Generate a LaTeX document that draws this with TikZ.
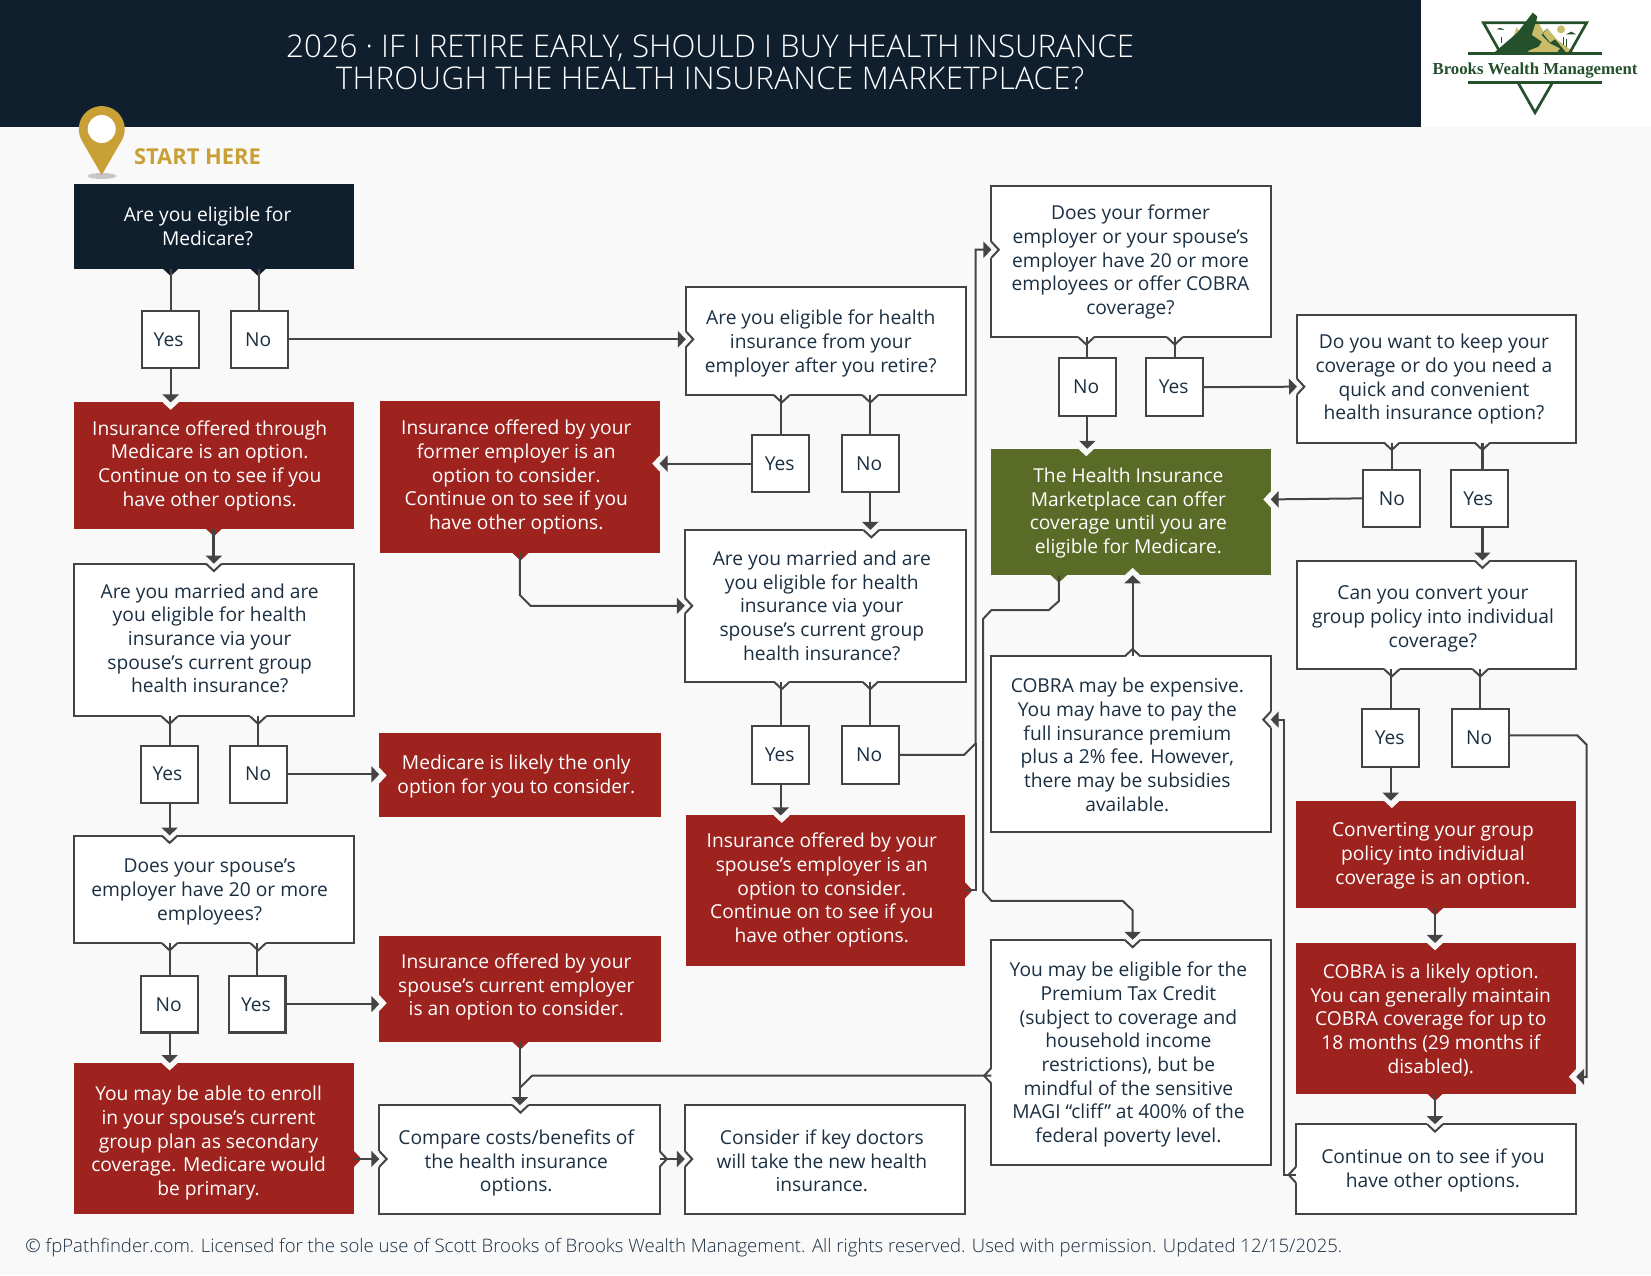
\documentclass[tikz,border=0pt]{standalone}
\usepackage{fontspec}
\usetikzlibrary{arrows.meta}
\setmainfont{Open Sans}
\newfontfamily\titlef{Open Sans Light}
\newfontfamily\logof{Liberation Serif}
\definecolor{navy}{HTML}{0F1F2E}
\definecolor{ink}{HTML}{1B2F42}
\definecolor{rust}{HTML}{9E231F}
\definecolor{olive}{HTML}{5A6A27}
\definecolor{bord}{HTML}{444444}
\definecolor{pagebg}{HTML}{F9F9F9}
\definecolor{gold}{HTML}{C9A035}
\definecolor{lgreen}{HTML}{24502B}
\definecolor{khaki}{HTML}{C8BC6A}
\newcommand\pxs{1.05356}
\newcommand\bx[9]{%
\pgfmathsetmacro\bW{(#5-#3)*\pxs}\pgfmathsetmacro\bH{(#6-#4)*\pxs}%
\pgfmathsetmacro\bdx{(#7-(#3+#5)/2)*\pxs*2}\pgfmathsetmacro\bdy{-(#8-(#4+#6)/2)*\pxs-7.5}%
\node[#2,minimum width=\bW pt,minimum height=\bH pt] (#1) at ({(#3+#5)/2},{(#4+#6)/2}) {\raisebox{\bdy pt}[0pt][0pt]{\makebox[0pt][c]{\hspace*{\bdx pt}\begin{tabular}{@{}c@{}}#9\end{tabular}}}};}
\newcommand\wdg[6]{%
\fill[#5] ({#1-1.3*#3+7.5*#4},{#2-1.3*#4+7.5*#3}) -- ({#1+7.5*#4},{#2+7.5*#3}) -- ({#1+7*#3},{#2+7*#4}) -- ({#1-7.5*#4},{#2-7.5*#3}) -- ({#1-1.3*#3-7.5*#4},{#2-1.3*#4-7.5*#3}) -- cycle;
\draw[#6] ({#1+7.5*#4},{#2+7.5*#3}) -- ({#1+7*#3},{#2+7*#4}) -- ({#1-7.5*#4},{#2-7.5*#3});}
\newcommand\nr[4]{\wdg{#1}{#2}{#3}{#4}{pagebg}{draw=none}}
\newcommand\nw[4]{\wdg{#1}{#2}{#3}{#4}{pagebg}{bord,line width=2pt}}
\newcommand\tw[4]{\wdg{#1}{#2}{#3}{#4}{white}{bord,line width=2pt}}
\newcommand\ts[5]{\wdg{#1}{#2}{#3}{#4}{#5}{draw=none}}
\tikzset{
 boxbase/.style={inner sep=0pt,outer sep=0pt,font=\fontsize{19.2}{23.7}\selectfont},
 wbox/.style={boxbase,draw=bord,line width=2pt,fill=white,text=ink},
 rbox/.style={boxbase,fill=rust,text=white},
 nbox/.style={boxbase,fill=navy,text=white},
 gbox/.style={boxbase,fill=olive,text=white},
 ans/.style={boxbase,draw=bord,line width=2.1pt,fill=white,text=ink},
 conn/.style={draw=bord,line width=2pt},
 arr/.style={conn,-{Triangle[width=16pt,length=8pt]}},
 heavy/.style={line width=2.8pt},
}
\begin{document}
\begin{tikzpicture}[x=1.05356pt,y=-1.05356pt]
\useasboundingbox (0,0) rectangle (1567,1210.17);
\fill[pagebg] (0,0) rectangle (1567,1210.17);
\fill[navy] (0,0) rectangle (1349,121);
\fill[white] (1349,0) rectangle (1567,121);
\node[text=white,align=center,font=\titlef\fontsize{31.25}{31.6}\selectfont,inner sep=0pt] (title) at (674,59) {2026 · IF I RETIRE EARLY, SHOULD I BUY HEALTH INSURANCE\\{\addfontfeatures{LetterSpace=1.2}THROUGH THE HEALTH INSURANCE MARKETPLACE?}};
% logo
\begin{scope}[x=0.3333pt,y=-0.3333pt,shift={(1400pt,0pt)}]
\fill[khaki] (330,135)--(350,82)--(362,100)--cycle;
\fill[khaki] (398,38)--(430,95)--(442,85)--(470,118)--(525,160)--(380,160)--cycle;
\fill[lgreen] (280,160)--(352,98)--(398,38)--(412,50)--(395,105)--(425,125)--(415,140)--(385,152)--(385,160)--cycle;
\fill[lgreen] (442,85)--(428,100)--(450,128)--(465,118)--(500,160)--(470,160)--(480,145)--(450,130)--(425,105)--cycle;
\fill[khaki] (483,88) circle (12);
\fill[lgreen] (290,88) -- (300,83) -- (314,90) -- cycle (498,103) -- (514,95) -- (528,103) -- cycle;
\draw[lgreen,line width=1.5pt] (305,110)--(305,130) (490,110)--(490,135) (500,118)--(500,140);
\draw[lgreen,line width=2.7pt] (302,160)--(250,68)--(560,68)--(508,160);
\draw[lgreen,line width=2.7pt] (355,250)--(405,338)--(456,250);
\draw[lgreen,line width=2.7pt] (205,160)--(605,160) (205,247)--(605,247);
\node[text=lgreen,font=\logof\bfseries\fontsize{16.8}{18}\selectfont,inner sep=0pt] (logotext) at (405,212) {Brooks Wealth Management};
\end{scope}
% pin
\begin{scope}[x=1pt,y=-1pt]
\fill[black!22] (102,176) ellipse (14.5 and 3);
\fill[gold] (101.7,175) -- (81.6,140.2) arc (151:389:23) -- cycle;
\fill[white] (101.7,129) circle (14);
\end{scope}
\node[anchor=west,text=gold,font=\bfseries\fontsize{21.9}{24}\selectfont,inner sep=0pt] (start) at (127,148.5) {START HERE};
% boxes
\bx{q1}{nbox}{70}{175}{336}{255}{197}{215}{Are you eligible for\\Medicare?}
\bx{y1}{ans}{135}{295}{189}{349}{160}{322}{Yes}
\bx{n1}{ans}{219}{295}{273}{349}{245}{322}{No}
\bx{r1}{rbox}{70}{382}{336}{502}{199}{440}{Insurance offered through\\Medicare is an option.\\Continue on to see if you\\have other options.}
\bx{q2}{wbox}{70}{535}{336}{680}{199}{606}{Are you married and are\\you eligible for health\\insurance via your\\spouse’s current group\\health insurance?}
\bx{y2}{ans}{134}{708}{188}{762}{159}{734}{Yes}
\bx{n2}{ans}{218}{708}{272}{762}{245}{734}{No}
\bx{med}{rbox}{360}{696}{627}{775}{490}{735}{Medicare is likely the only\\option for you to consider.}
\bx{q3}{wbox}{70}{793}{336}{895}{199}{844}{Does your spouse’s\\employer have 20 or more\\employees?}
\bx{n3}{ans}{134}{926}{188}{980}{160}{953}{No}
\bx{y3}{ans}{217}{926}{271}{980}{243}{953}{Yes}
\bx{emp}{rbox}{360}{888}{627}{989}{490}{935}{Insurance offered by your\\spouse’s current employer\\is an option to consider.}
\bx{sec}{rbox}{70}{1009}{336}{1152}{198}{1083}{You may be able to enroll\\in your spouse's current\\group plan as secondary\\coverage. Medicare would\\be primary.}
\bx{cmp}{wbox}{360}{1049}{626}{1152}{490}{1102}{Compare costs/benefits of\\the health insurance\\options.}
\bx{doc}{wbox}{650}{1049}{916}{1152}{780}{1102}{Consider if key doctors\\will take the new health\\insurance.}
\bx{q4}{wbox}{651}{272}{917}{375}{779}{324}{Are you eligible for health\\insurance from your\\employer after you retire?}
\bx{y4}{ans}{714}{413}{768}{467}{740}{440}{Yes}
\bx{n4}{ans}{799}{413}{853}{467}{825}{440}{No}
\bx{fmr}{rbox}{361}{381}{626}{525}{490}{451}{Insurance offered by your\\former employer is an\\option to consider.\\Continue on to see if you\\have other options.}
\bx{q5}{wbox}{650}{503}{917}{647}{780}{575}{Are you married and are\\you eligible for health\\insurance via your\\spouse’s current group\\health insurance?}
\bx{y5}{ans}{714}{689}{768}{744}{740}{716}{Yes}
\bx{n5}{ans}{799}{689}{853}{744}{825}{716}{No}
\bx{sp}{rbox}{651}{774}{916}{917}{780}{843}{Insurance offered by your\\spouse’s employer is an\\option to consider.\\Continue on to see if you\\have other options.}
\bx{q6}{wbox}{941}{177}{1206}{320}{1073}{247}{Does your former\\employer or your spouse's\\employer have 20 or more\\employees or offer COBRA\\coverage?}
\bx{n6}{ans}{1005}{340}{1059}{395}{1031}{367}{No}
\bx{y6}{ans}{1088}{340}{1142}{395}{1114}{367}{Yes}
\bx{q7}{wbox}{1231}{299}{1496}{420}{1361}{358}{Do you want to keep your\\coverage or do you need a\\quick and convenient\\health insurance option?}
\bx{n7}{ans}{1294}{446}{1348}{500}{1321}{473}{No}
\bx{y7}{ans}{1377}{446}{1431}{500}{1403}{473}{Yes}
\bx{grn}{gbox}{941}{426}{1206}{546}{1071}{485}{The Health Insurance\\Marketplace can offer\\coverage until you are\\eligible for Medicare.}
\bx{q8}{wbox}{941}{623}{1206}{790}{1070}{707}{COBRA may be expensive.\\You may have to pay the\\full insurance premium\\plus a 2\% fee. However,\\there may be subsidies\\available.}
\bx{ptc}{wbox}{941}{892}{1206}{1106}{1071}{999}{You may be eligible for the\\Premium Tax Credit\\(subject to coverage and\\household income\\restrictions), but be\\mindful of the sensitive\\MAGI “cliff” at 400\% of the\\federal poverty level.}
\bx{q9}{wbox}{1231}{532}{1496}{635}{1360}{585}{Can you convert your\\group policy into individual\\coverage?}
\bx{y8}{ans}{1293}{673}{1347}{728}{1319}{700}{Yes}
\bx{n8}{ans}{1378}{673}{1432}{728}{1404}{700}{No}
\bx{cvt}{rbox}{1230}{760}{1496}{862}{1360}{810}{Converting your group\\policy into individual\\coverage is an option.}
\bx{cob}{rbox}{1230}{895}{1496}{1038}{1358}{967}{COBRA is a likely option.\\You can generally maintain\\COBRA coverage for up to\\18 months (29 months if\\disabled).}
\bx{cnt}{wbox}{1230}{1067}{1496}{1152}{1360}{1109}{Continue on to see if you\\have other options.}
% tabs and notches
\ts{162}{255}{0}{1}{navy}\ts{245}{255}{0}{1}{navy}
\nr{162}{382}{0}{1}\ts{203}{502}{0}{1}{rust}
\nw{203}{535}{0}{1}\tw{161}{680}{0}{1}\tw{245}{680}{0}{1}
\nr{360}{736}{1}{0}
\nw{161}{793}{0}{1}\tw{161}{895}{0}{1}\tw{245}{895}{0}{1}
\nr{360}{952}{1}{0}\ts{494}{989}{0}{1}{rust}
\nr{161}{1009}{0}{1}\ts{336}{1100}{1}{0}{rust}
\nw{360}{1100}{1}{0}\nw{494}{1049}{0}{1}\tw{626}{1100}{1}{0}
\nw{650}{1100}{1}{0}
\nw{651}{322}{1}{0}\tw{742}{375}{0}{1}\tw{826}{375}{0}{1}
\nr{626}{440}{-1}{0}\ts{494}{525}{0}{1}{rust}
\nw{827}{503}{0}{1}\nw{650}{575}{1}{0}\tw{742}{647}{0}{1}\tw{826}{647}{0}{1}
\nr{742}{774}{0}{1}\ts{916}{845}{1}{0}{rust}
\nw{941}{237}{1}{0}\tw{1031}{320}{0}{1}\tw{1115}{320}{0}{1}
\nr{1031}{426}{0}{1}\nr{1206}{474}{-1}{0}\ts{1005}{546}{0}{1}{olive}\nr{1075}{546}{0}{-1}
\nw{1231}{367}{1}{0}\tw{1321}{420}{0}{1}\tw{1407}{420}{0}{1}
\tw{1075}{623}{0}{-1}\nw{1206}{683}{-1}{0}
\nw{1075}{892}{0}{1}\tw{941}{1021}{-1}{0}
\nw{1407}{532}{0}{1}\tw{1321}{635}{0}{1}\tw{1405}{635}{0}{1}
\nr{1321}{760}{0}{1}\ts{1362}{862}{0}{1}{rust}
\nr{1362}{895}{0}{1}\nr{1496}{1022}{-1}{0}\ts{1362}{1038}{0}{1}{rust}
\nw{1362}{1067}{0}{1}\tw{1230}{1115}{-1}{0}
% connector ends away from box centres
\coordinate (r1o) at (203,502);
\coordinate (q7y) at (1407,420);
\coordinate (y7o) at (1407,500);
\coordinate (q8t) at (1075,623);
\coordinate (cvo) at (1362,862);
\coordinate (coo) at (1362,1038);
\coordinate (sec o) at (336,1100);
\coordinate (cmp i) at (360,1100);
\coordinate (cmp o) at (626,1100);
\coordinate (doc i) at (650,1100);
\coordinate (fmr i) at (626,440);
\coordinate (sp o) at (916,845);
\coordinate (q6 i) at (941,237);
\coordinate (q7 i) at (1231,367);
\coordinate (grn o) at (1005,546);
\coordinate (grn i) at (1206,474);
\coordinate (ptc o) at (941,1021);
\coordinate (q8 i) at (1206,683);
\coordinate (cnt o) at (1230,1115);
\coordinate (cob i) at (1496,1022);
\coordinate (n8 o) at (1432,698);
% connectors
\draw[conn] (q1.south -| y1.north) -- (y1.north);
\draw[conn] (q1.south -| n1.north) -- (n1.north);
\draw[arr] (y1.south) -- (y1.south |- r1.north);
\draw[arr] (n1.east) -- (n1.east -| q4.west);
\draw[arr,heavy] (r1o) -- (r1o |- q2.north);
\draw[conn] (q2.south -| y2.north) -- (y2.north);
\draw[conn] (q2.south -| n2.north) -- (n2.north);
\draw[arr] (y2.south) -- (y2.south |- q3.north);
\draw[arr] (n2.east) -- (n2.east -| med.west);
\draw[conn] (q3.south -| n3.north) -- (n3.north);
\draw[conn] (q3.south -| y3.north) -- (y3.north);
\draw[arr] (n3.south) -- (n3.south |- sec.north);
\draw[arr] (y3.east) -- (y3.east -| emp.west);
\draw[arr] (sec o) -- (cmp i);
\draw[arr] (cmp o) -- (doc i);
\draw[arr] (emp.south) -- (emp.south |- cmp.north);
\draw[conn] (ptc o) -- (505,1021) -- (494,1032);
\draw[conn] (q4.south -| y4.north) -- (y4.north);
\draw[conn] (q4.south -| n4.north) -- (n4.north);
\draw[arr] (y4.west) -- (fmr i);
\draw[arr] (n4.south) -- (n4.south |- q5.north);
\draw[arr] (fmr.south) -- (493.5,565) -- (503.5,575) -- (q5.west);
\draw[conn] (q5.south -| y5.north) -- (y5.north);
\draw[conn] (q5.south -| n5.north) -- (n5.north);
\draw[arr] (y5.south) -- (y5.south |- sp.north);
\draw[arr] (n5.east) -- (915,716.5) -- (926,705.5) -- (926,237) -- (q6 i);
\draw[conn] (sp o) -- (926,845) -- (926,705);
\draw[conn] (q6.south -| n6.north) -- (n6.north);
\draw[conn] (q6.south -| y6.north) -- (y6.north);
\draw[arr] (n6.south) -- (n6.south |- grn.north);
\draw[arr] (y6.east) -- (q7 i);
\draw[conn] (q7.south -| n7.north) -- (n7.north);
\draw[conn,line width=3.2pt] (q7y) -- (q7y |- y7.north);
\draw[arr] (n7.west) -- (grn i);
\draw[arr,line width=3.2pt] (y7o) -- (y7o |- q9.north);
\draw[arr] (q8t) -- (q8t |- grn.south);
\draw[arr] (grn o) -- (1005,570.5) -- (995.5,579) -- (941,579) -- (933,587.5) -- (933,846) -- (941,855) -- (1065.5,855) -- (1075,864) -- (1075,892);
\draw[conn] (q9.south -| y8.north) -- (y8.north);
\draw[conn] (q9.south -| n8.north) -- (n8.north);
\draw[arr] (y8.south) -- (y8.south |- cvt.north);
\draw[arr] (n8 o) -- (1497,698) -- (1506,707) -- (1506,1022) -- (cob i);
\draw[arr,heavy] (cvo) -- (cvo |- cob.north);
\draw[arr,heavy] (coo) -- (coo |- cnt.north);
\draw[arr] (cnt o) -- (1218.5,1115) -- (1218.5,683) -- (q8 i);
\node[anchor=west,text=ink,font=\titlef\fontsize{18.57}{20}\selectfont,inner sep=0pt] (foot) at (24,1184.5) {© fpPathfinder.com. Licensed for the sole use of Scott Brooks of Brooks Wealth Management. All rights reserved. Used with permission. Updated 12/15/2025.};
\end{tikzpicture}
\end{document}
